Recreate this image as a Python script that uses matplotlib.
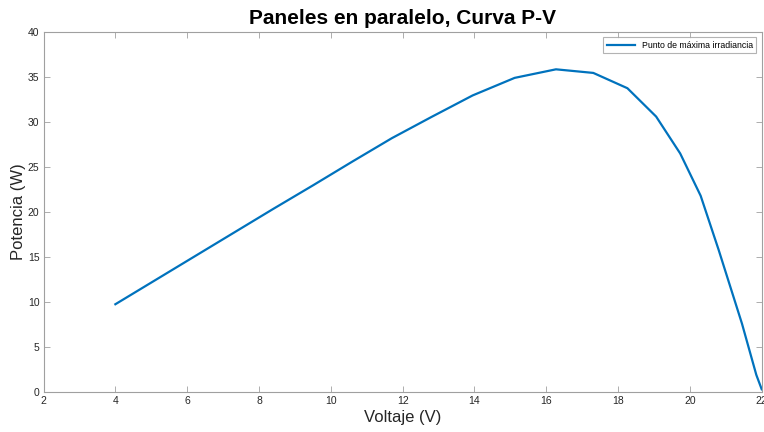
import matplotlib
matplotlib.use("Agg")
import matplotlib.pyplot as plt

voltaje = [4.0, 5.1, 6.2, 7.3, 8.4, 9.5, 10.6, 11.7, 12.8, 13.95, 15.12, 16.27,
           17.31, 18.26, 19.06, 19.73, 20.3, 20.8, 21.45, 21.85, 22.0]
potencia = [9.75, 12.4, 15.05, 17.7, 20.35, 22.95, 25.6, 28.2, 30.55, 32.95, 34.9, 35.85,
            35.45, 33.75, 30.6, 26.5, 21.8, 15.8, 7.6, 1.9, 0.3]

plt.rcParams['font.family'] = ['Liberation Sans', 'DejaVu Sans']

fig = plt.figure(figsize=(7.64, 4.32), dpi=100)
ax = fig.add_axes([0.057, 0.0926, 0.94, 0.8334])

ax.plot(voltaje, potencia, color='#0072BD', linewidth=1.6, label='Punto de máxima irradiancia')

ax.set_xlim(2, 22)
ax.set_ylim(0, 40)
ax.set_xticks(range(2, 23, 2))
ax.set_yticks(range(0, 41, 5))

gray = '#262626'
for s in ax.spines.values():
    s.set_color('#a0a0a0')
    s.set_linewidth(0.8)
ax.tick_params(direction='in', top=True, right=True, length=4, width=0.6,
               color='#a0a0a0', labelcolor=gray, labelsize=7.5, pad=3)

ax.set_title('Paneles en paralelo, Curva P-V', fontsize=15, fontweight='bold', color='black', pad=6)
ax.set_xlabel('Voltaje (V)', fontsize=12, color=gray, labelpad=3)
ax.set_ylabel('Potencia (W)', fontsize=12, color=gray, labelpad=1)

leg = ax.legend(loc='upper right', fontsize=6.3, frameon=True, fancybox=False,
                handlelength=3.2, borderpad=0.4, borderaxespad=0.6)
leg.get_frame().set_edgecolor('#a0a0a0')
leg.get_frame().set_linewidth(0.8)

fig.savefig('out.png', dpi=100)
